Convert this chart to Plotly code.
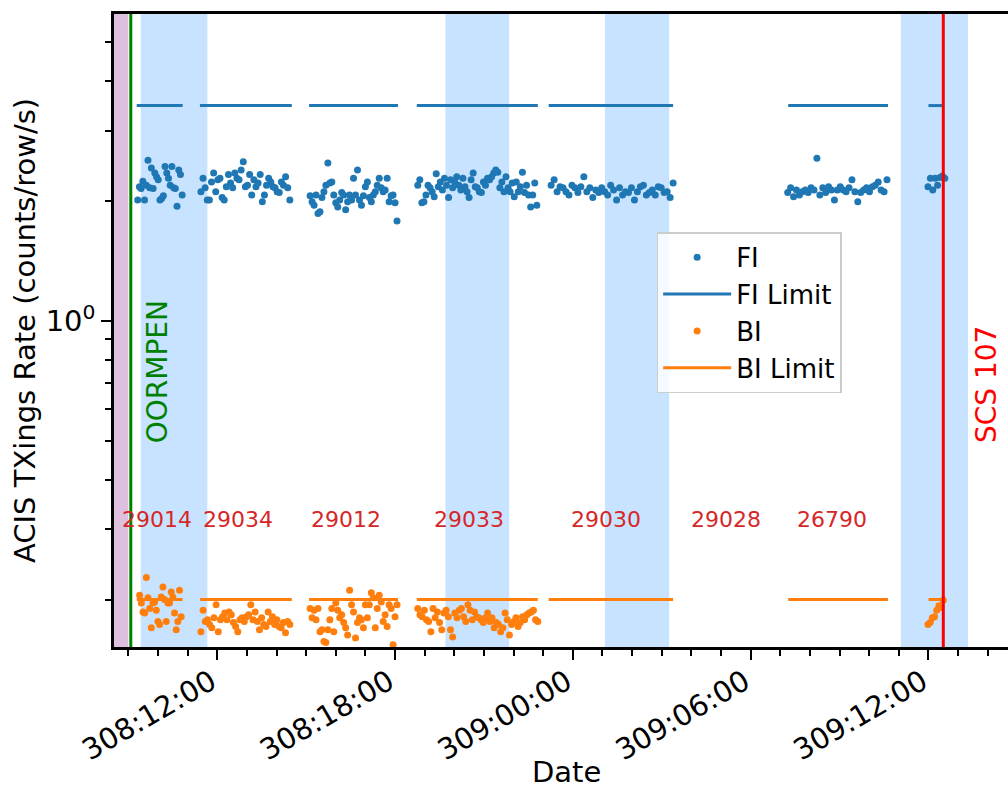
import numpy as np
import plotly.graph_objects as go
from datetime import datetime, timedelta

BASE = datetime(2024, 11, 3)  # day-of-year 308


def doy(s):
    d, h, m = s.split(":")[:3]
    return BASE + timedelta(days=int(d) - 308, hours=int(h), minutes=int(m))


def spread(span, n):
    t0, t1 = doy(span[0]), doy(span[1])
    if n == 1:
        return [t0]
    return [t0 + (t1 - t0) * k / (n - 1) for k in range(n)]


# ---------------- data ----------------
fi_spans = [("308:09:19", "308:10:49"), ("308:11:27", "308:14:27"), ("308:15:08", "308:18:04"),
            ("308:18:46", "308:22:47"), ("308:23:16", "309:03:23"), ("309:07:15", "309:10:36"),
            ("309:11:59", "309:12:33")]
fi_vals_29014 = [2.01, 2.17, 2.15, 2.24, 2.01, 2.19, 2.53, 2.16, 2.42, 2.15, 2.35, 2.30, 2.26, 2.01, 2.03,
                 2.06, 2.44, 2.35, 2.28, 2.19, 2.44, 2.16, 2.15, 1.94, 2.39, 2.33, 2.07]
fi_vals_29034 = [2.11, 2.28, 2.16, 2.01, 2.01, 2.23, 2.35, 2.11, 2.26, 2.28, 2.04, 2.01, 2.17, 2.33, 2.22,
                 2.16, 2.35, 2.28, 2.26, 2.39, 2.51, 2.17, 2.19, 2.33, 2.07, 2.26, 2.17, 2.22, 2.33, 1.99,
                 2.07, 2.19, 2.28, 2.23, 2.17, 2.16, 2.11, 2.10, 2.23, 2.19, 2.30, 2.16, 2.01]
fi_vals_29012 = [2.06, 1.99, 1.95, 2.07, 1.86, 1.88, 2.04, 2.11, 2.19, 2.49, 2.22, 2.23, 2.07, 1.98, 1.93,
                 2.01, 2.10, 2.07, 1.90, 1.99, 2.07, 2.01, 2.28, 2.07, 2.39, 2.01, 1.95, 2.06, 2.17, 2.23,
                 2.04, 1.99, 2.07, 2.11, 2.19, 2.28, 2.16, 2.11, 2.13, 2.28, 1.99, 2.06, 2.07, 1.98, 1.78]
fi_vals_29033 = [2.19, 2.26, 1.98, 1.99, 2.07, 2.19, 2.16, 2.11, 2.05, 2.34, 2.17, 2.23, 2.13, 2.28, 2.19,
                 2.04, 2.26, 2.16, 2.23, 2.30, 2.19, 2.13, 2.28, 2.17, 2.11, 2.04, 2.26, 2.35, 2.17, 2.16,
                 2.11, 2.10, 2.23, 2.19, 2.28, 2.26, 2.30, 2.35, 2.39, 2.36, 2.16, 2.23, 2.11, 2.30, 2.16,
                 2.11, 2.22, 2.05, 2.23, 2.11, 2.17, 2.36, 2.10, 2.19, 2.07, 1.93, 2.07, 2.22, 1.95]
fi_vals_29030 = [2.19, 2.26, 2.11, 2.17, 2.16, 2.11, 2.07, 2.19, 2.16, 2.10, 2.17, 2.30, 2.11, 2.16, 2.04,
                 2.13, 2.10, 2.16, 2.11, 2.07, 2.19, 2.13, 2.01, 2.16, 2.07, 2.11, 2.10, 2.16, 2.01, 2.11,
                 2.17, 2.19, 2.07, 2.10, 2.13, 2.07, 2.17, 2.16, 2.10, 2.11, 2.04, 2.22]
fi_vals_26790 = [2.10, 2.16, 2.05, 2.13, 2.07, 2.11, 2.13, 2.10, 2.16, 2.13, 2.56, 2.07, 2.16, 2.10, 2.17,
                 2.13, 2.01, 2.13, 2.17, 2.13, 2.11, 2.16, 2.26, 2.11, 1.99, 2.10, 2.13, 2.16, 2.11, 2.17,
                 2.19, 2.23, 2.13, 2.11, 2.26]
fi_vals_last = [2.17, 2.28, 2.13, 2.28, 2.19, 2.29, 2.31, 2.28]
fi_value_sets = [fi_vals_29014, fi_vals_29034, fi_vals_29012, fi_vals_29033, fi_vals_29030,
                 fi_vals_26790, fi_vals_last]

bi_spans = [("308:09:23", "308:10:47"), ("308:11:27", "308:14:27"), ("308:15:08", "308:18:04"),
            ("308:18:46", "308:22:49"), ("309:11:59", "309:12:30")]
bi_vals_29014 = [0.205, 0.196, 0.186, 0.185, 0.227, 0.202, 0.190, 0.170, 0.196, 0.197, 0.188, 0.176, 0.173,
                 0.203, 0.215, 0.200, 0.176, 0.196, 0.196, 0.209, 0.203, 0.185, 0.168, 0.176, 0.211, 0.181]
bi_vals_29034 = [0.166, 0.188, 0.176, 0.178, 0.173, 0.170, 0.180, 0.194, 0.166, 0.178, 0.181, 0.185, 0.178,
                 0.186, 0.183, 0.175, 0.171, 0.166, 0.178, 0.180, 0.176, 0.181, 0.183, 0.194, 0.178, 0.186,
                 0.176, 0.168, 0.180, 0.173, 0.171, 0.186, 0.176, 0.181, 0.173, 0.178, 0.171, 0.170, 0.175,
                 0.165, 0.176, 0.173]
bi_vals_29012 = [0.190, 0.180, 0.188, 0.178, 0.190, 0.166, 0.168, 0.157, 0.156, 0.168, 0.178, 0.190, 0.166,
                 0.196, 0.188, 0.180, 0.183, 0.175, 0.170, 0.163, 0.211, 0.194, 0.186, 0.160, 0.175, 0.180,
                 0.178, 0.170, 0.194, 0.180, 0.194, 0.208, 0.202, 0.170, 0.190, 0.205, 0.197, 0.176, 0.183,
                 0.171, 0.194, 0.190, 0.154, 0.181, 0.194]
bi_vals_29033 = [0.190, 0.183, 0.181, 0.188, 0.178, 0.176, 0.166, 0.190, 0.180, 0.186, 0.175, 0.168, 0.185,
                 0.188, 0.181, 0.168, 0.161, 0.185, 0.180, 0.188, 0.190, 0.181, 0.176, 0.194, 0.188, 0.178,
                 0.186, 0.181, 0.180, 0.178, 0.175, 0.180, 0.185, 0.176, 0.180, 0.170, 0.175, 0.173, 0.166,
                 0.170, 0.185, 0.178, 0.163, 0.173, 0.176, 0.180, 0.171, 0.175, 0.181, 0.178, 0.183, 0.185,
                 0.186, 0.188, 0.178, 0.176]
bi_vals_last = [0.173, 0.175, 0.180, 0.181, 0.188, 0.193, 0.191, 0.199]
bi_value_sets = [bi_vals_29014, bi_vals_29034, bi_vals_29012, bi_vals_29033, bi_vals_last]

limit_segments = [("308:09:17", "308:10:50"), ("308:11:25", "308:14:31"), ("308:15:06", "308:18:06"),
                  ("308:18:44", "308:22:49"), ("308:23:11", "309:03:23"), ("309:07:16", "309:10:38"),
                  ("309:12:00", "309:12:30")]
fi_limit = 3.47
bi_limit = 0.20

obsid_labels = ["29014", "29034", "29012", "29033", "29030", "29028", "26790"]
obsid_label_times = ["308:09:58", "308:12:42", "308:16:21", "308:20:30", "309:01:07", "309:05:10",
                     "309:08:45"]
obsid_label_level = 0.317

radzone_bands = [("308:09:25", "308:11:40"), ("308:19:42", "308:21:51"), ("309:01:05", "309:03:15"),
                 ("309:11:04", "309:13:20")]
purple_band = ("308:08:00", "308:09:00")
oormpen_time = "308:09:05"
scs107_time = "309:12:30"
event_text_level = 0.489
oormpen_text_time = "308:09:58"
scs107_text_time = "309:13:56"

x_range = ("308:08:31", "309:14:41")
y_range = (0.152, 5.89)

# ---------------- build ----------------
FONT = "DejaVu Sans"
FI_C, BI_C = "#1f77b4", "#ff7f0e"

fi_x, fi_y = [], []
for span, vals in zip(fi_spans, fi_value_sets):
    fi_x += spread(span, len(vals))
    fi_y += vals
bi_x, bi_y = [], []
for span, vals in zip(bi_spans, bi_value_sets):
    bi_x += spread(span, len(vals))
    bi_y += vals

lim_x, fi_lim_y, bi_lim_y = [], [], []
for a, b in limit_segments:
    lim_x += [doy(a), doy(b), None]
    fi_lim_y += [fi_limit, fi_limit, None]
    bi_lim_y += [bi_limit, bi_limit, None]

fig = go.Figure()
fig.add_trace(go.Scatter(x=fi_x, y=fi_y, mode="markers", name="FI",
                         marker=dict(color=FI_C, size=7)))
fig.add_trace(go.Scatter(x=lim_x, y=fi_lim_y, mode="lines", name="FI Limit",
                         line=dict(color=FI_C, width=3)))
fig.add_trace(go.Scatter(x=bi_x, y=bi_y, mode="markers", name="BI",
                         marker=dict(color=BI_C, size=7)))
fig.add_trace(go.Scatter(x=lim_x, y=bi_lim_y, mode="lines", name="BI Limit",
                         line=dict(color=BI_C, width=3)))

shapes = []
x0 = doy(x_range[0])
shapes.append(dict(type="rect", xref="x", yref="paper", x0=max(doy(purple_band[0]), x0),
                   x1=doy(purple_band[1]), y0=0, y1=1, fillcolor="rgba(128,0,128,0.25)",
                   line=dict(width=0), layer="below"))
for a, b in radzone_bands:
    shapes.append(dict(type="rect", xref="x", yref="paper", x0=doy(a), x1=doy(b), y0=0, y1=1,
                       fillcolor="rgba(30,144,255,0.25)", line=dict(width=0), layer="below"))
shapes.append(dict(type="line", xref="x", yref="paper", x0=doy(oormpen_time), x1=doy(oormpen_time),
                   y0=0, y1=1, line=dict(color="green", width=3)))
shapes.append(dict(type="line", xref="x", yref="paper", x0=doy(scs107_time), x1=doy(scs107_time),
                   y0=0, y1=1, line=dict(color="red", width=3)))

annotations = []
for lab, t in zip(obsid_labels, obsid_label_times):
    annotations.append(dict(x=doy(t), y=np.log10(obsid_label_level), xref="x", yref="y", text=lab,
                            showarrow=False, font=dict(family=FONT, size=22, color="#d62728"),
                            xanchor="center", yanchor="middle"))
annotations.append(dict(x=doy(oormpen_text_time), y=np.log10(event_text_level), xref="x", yref="y",
                        text="OORMPEN", textangle=-90, showarrow=False,
                        font=dict(family=FONT, size=28, color="green"), xanchor="center",
                        yanchor="bottom"))
annotations.append(dict(x=doy(scs107_text_time), y=np.log10(event_text_level), xref="x", yref="y",
                        text="SCS 107", textangle=-90, showarrow=False,
                        font=dict(family=FONT, size=28, color="red"), xanchor="center",
                        yanchor="bottom"))
# x-axis title placed as a paper-anchored label below the rotated tick labels
annotations.append(dict(x=0.5056, y=-0.198, xref="paper", yref="paper", text="Date",
                        showarrow=False, font=dict(family=FONT, size=29, color="black"),
                        xanchor="center", yanchor="middle", borderpad=0))

fig.update_layout(
    width=1008, height=792,
    margin=dict(l=114, r=0, t=14, b=145),
    paper_bgcolor="white", plot_bgcolor="white",
    font=dict(family=FONT, size=28, color="black"),
    shapes=shapes, annotations=annotations,
    legend=dict(x=0.607, y=0.655, xanchor="left", yanchor="top",
                bgcolor="rgba(255,255,255,0.8)", bordercolor="#cccccc", borderwidth=1.5,
                font=dict(family=FONT, size=26, color="black"), itemwidth=68,
                tracegroupgap=0),
    xaxis=dict(type="date", range=[doy(x_range[0]), doy(x_range[1])], automargin=False,
               tickformat="%j:%H:%M", dtick=6 * 3600 * 1000, tick0=BASE, tickangle=-30,
               ticks="outside", ticklen=10, tickwidth=2.2, tickcolor="black",
               ticklabelshift=-6, ticklabelstandoff=-6,
               showline=True, linewidth=2.5, linecolor="black", mirror=True,
               showgrid=False, zeroline=False,
               tickfont=dict(family=FONT, size=29, color="black"),
               minor=dict(dtick=3600 * 1000, tick0=BASE, ticks="outside", ticklen=6,
                          tickwidth=1.8, tickcolor="black", showgrid=False)),
    yaxis=dict(type="log", range=[np.log10(y_range[0]), np.log10(y_range[1])], automargin=False,
               tickmode="array", tickvals=[1], ticktext=["10<sup>0</sup>"],
               ticks="outside", ticklen=10, tickwidth=2.2, tickcolor="black",
               showline=True, linewidth=2.5, linecolor="black", mirror=False,
               showgrid=False, zeroline=False,
               tickfont=dict(family=FONT, size=29, color="black"),
               minor=dict(tickmode="array", tickvals=[0.2, 0.3, 0.4, 0.5, 0.6, 0.7, 0.8, 0.9, 2, 3, 4, 5],
                          ticks="outside", ticklen=6, tickwidth=1.8, tickcolor="black",
                          showgrid=False),
               title=dict(text="ACIS TXings Rate (counts/row/s)", font=dict(family=FONT, size=29),
                          standoff=2)),
)

fig.write_html("out.html")
